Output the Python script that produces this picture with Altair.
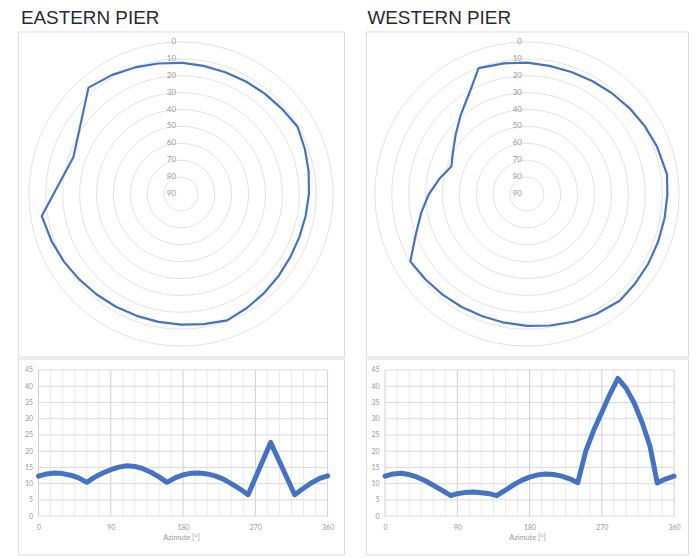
import altair as alt
import pandas as pd

# ---------------- data ----------------
east_az = [0, 10, 20, 30, 40, 50, 60, 70, 80, 90, 100, 110, 120, 130, 140, 150, 160,
           170, 180, 190, 200, 210, 220, 230, 240, 250, 261, 289, 319, 330, 340, 350, 360]
east_el = [12.3, 13.0, 13.3, 13.1, 12.6, 11.8, 10.4, 12.0, 13.3, 14.3, 15.1, 15.5, 15.3,
           14.6, 13.5, 12.1, 10.4, 11.8, 12.7, 13.2, 13.3, 13.0, 12.4, 11.4, 10.0, 8.5,
           6.6, 22.7, 6.6, 8.6, 10.3, 11.6, 12.4]

west_az = [0, 10, 20, 30, 40, 50, 60, 70, 82, 90, 100, 110, 120, 130, 139, 150, 160,
           170, 180, 190, 200, 210, 220, 230, 240, 250, 260, 270, 280, 290, 300, 310,
           320, 330, 339, 350, 360]
west_el = [12.3, 13.0, 13.2, 12.8, 12.0, 10.9, 9.5, 8.1, 6.3, 6.9, 7.3, 7.4, 7.2, 6.9,
           6.3, 8.0, 9.6, 11.0, 12.0, 12.7, 13.0, 12.8, 12.3, 11.5, 10.3, 20.0, 26.5,
           32.0, 37.5, 42.4, 39.5, 35.0, 29.0, 21.5, 10.2, 11.5, 12.3]

ring_levels = [0, 10, 20, 30, 40, 50, 60, 70, 80]
ring_labels = [0, 10, 20, 30, 40, 50, 60, 70, 80, 90]
y_ticks = [0, 5, 10, 15, 20, 25, 30, 35, 40, 45]
x_ticks = [0, 90, 180, 270, 360]
x_minor = [15, 30, 45, 60, 75, 105, 120, 135, 150, 165, 195, 210, 225, 240, 255,
           285, 300, 315, 330, 345]

BLUE = "#4472C4"
R_PX = 153          # radius of the 0-ring in pixels
TXT = "#999999"
LBL_FONT = "Lato"


def polar(az, el, w, h, title, tdx):
    df = pd.DataFrame({"az": az, "el": el})
    hx = (w / 2) / R_PX * 90
    hy = (h / 2) / R_PX * 90
    xs = alt.Scale(domain=[-hx, hx], nice=False, zero=False)
    ys = alt.Scale(domain=[-hy, hy], nice=False, zero=False)

    # symbol size = area of bounding square -> (2r)^2
    rings = alt.Chart(pd.DataFrame({"v": ring_levels})).transform_calculate(
        s=f"pow(2 * (90 - datum.v) * {R_PX / 90}, 2)"
    ).mark_point(shape="circle", filled=False, stroke="#e2e2e2", strokeWidth=1,
                 opacity=1).encode(
        x=alt.X(datum=0, scale=xs, axis=None),
        y=alt.Y(datum=0, scale=ys, axis=None),
        size=alt.Size("s:Q", scale=None, legend=None),
    )

    labels = alt.Chart(pd.DataFrame({"v": ring_labels})).transform_calculate(
        py="90 - datum.v"
    ).mark_text(align="right", baseline="middle", dx=-5, fontSize=8,
                color=TXT, font=LBL_FONT).encode(
        x=alt.X(datum=0, scale=xs, axis=None),
        y=alt.Y("py:Q", scale=ys, axis=None),
        text=alt.Text("v:Q", format="d"),
    )

    line = alt.Chart(df).transform_calculate(
        px="(90 - datum.el) * sin(datum.az * PI / 180)",
        py="(90 - datum.el) * cos(datum.az * PI / 180)",
    ).mark_line(color=BLUE, strokeWidth=2.2, strokeJoin="round").encode(
        x=alt.X("px:Q", scale=xs, axis=None),
        y=alt.Y("py:Q", scale=ys, axis=None),
        order="az:Q",
    )

    return alt.layer(rings, line, labels).properties(
        width=w, height=h,
        title=alt.Title(title, anchor="start", fontSize=19, font="Liberation Sans",
                        fontWeight="normal", color="#2a2a2a", offset=4,
                        baseline="top", dx=tdx),
    )


def profile(az, el, w, h, left, right, top, bottom):
    df = pd.DataFrame({"az": az, "el": el})
    kx = (w - left - right) / 360
    ky = (h - top - bottom) / 45
    xs = alt.Scale(domain=[-left / kx, 360 + right / kx], nice=False, zero=False)
    ys = alt.Scale(domain=[-bottom / ky, 45 + top / ky], nice=False, zero=False)

    x_axis = alt.Axis(
        values=x_ticks, title="Azimute [°]", offset=-bottom, grid=False,
        domain=False, ticks=False, labelFontSize=7, labelColor=TXT,
        labelFont=LBL_FONT, labelPadding=7, labelFlush=False,
        labelOverlap=False, titleFontSize=7.5, titleColor=TXT,
        titleFont=LBL_FONT, titleFontWeight="normal", titlePadding=4)
    y_axis = alt.Axis(
        values=y_ticks, title=None, offset=-left, grid=False, domain=False,
        ticks=False, labelFontSize=7, labelColor=TXT, labelFont=LBL_FONT,
        labelPadding=6, labelFlush=False, labelOverlap=False)

    hgrid = alt.Chart(pd.DataFrame({"v": y_ticks})).mark_rule(
        color="#dadada", strokeWidth=1).encode(
        y=alt.Y("v:Q", scale=ys, axis=y_axis, title=None),
        x=alt.X(datum=0, scale=xs, axis=x_axis, title="Azimute [°]"),
        x2=alt.X2(datum=360))
    vminor = alt.Chart(pd.DataFrame({"v": x_minor})).mark_rule(
        color="#ebebeb", strokeWidth=1).encode(
        x=alt.X("v:Q", scale=xs, axis=x_axis, title="Azimute [°]"),
        y=alt.Y(datum=0, scale=ys, axis=y_axis, title=None),
        y2=alt.Y2(datum=45))
    vmajor = alt.Chart(pd.DataFrame({"v": x_ticks})).mark_rule(
        color="#d0d0d0", strokeWidth=1).encode(
        x=alt.X("v:Q", scale=xs, axis=x_axis, title="Azimute [°]"),
        y=alt.Y(datum=0, scale=ys, axis=y_axis, title=None),
        y2=alt.Y2(datum=45))

    line = alt.Chart(df).mark_line(color=BLUE, strokeWidth=5, strokeCap="round",
                                   strokeJoin="round").encode(
        x=alt.X("az:Q", scale=xs, axis=x_axis, title="Azimute [°]"),
        y=alt.Y("el:Q", scale=ys, axis=y_axis, title=None),
    )
    return alt.layer(vminor, vmajor, hgrid, line).properties(width=w, height=h)


east = alt.vconcat(
    polar(east_az, east_el, 328, 327, "EASTERN PIER", 3),
    profile(east_az, east_el, 328, 197, 20.7, 16.5, 11.5, 38.5),
    spacing=0,
)
west = alt.vconcat(
    polar(west_az, west_el, 324, 327, "WESTERN PIER", 1.5),
    profile(west_az, west_el, 324, 197, 19.3, 14.0, 11.5, 38.5),
    spacing=0,
)

chart = alt.hconcat(east, west, spacing=20).properties(
    padding={"left": 9, "top": -2, "right": 0, "bottom": 0},
    background="white",
).configure_view(stroke="#dcdcdc", strokeWidth=1)

chart.save("out.html", embed_options={"renderer": "svg", "actions": False})
